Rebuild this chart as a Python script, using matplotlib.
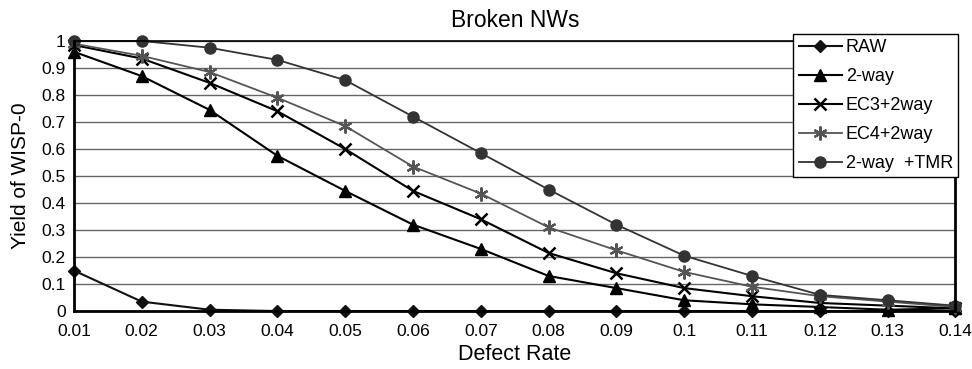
import matplotlib.pyplot as plt

plt.rcParams["font.family"] = ["Liberation Sans", "DejaVu Sans"]

defect_rate = [0.01, 0.02, 0.03, 0.04, 0.05, 0.06, 0.07, 0.08, 0.09, 0.10, 0.11, 0.12, 0.13, 0.14]
raw = [0.15, 0.035, 0.005, 0.0, 0.0, 0.0, 0.0, 0.0, 0.0, 0.0, 0.0, 0.0, 0.0, 0.0]
two_way = [0.96, 0.87, 0.745, 0.575, 0.445, 0.32, 0.23, 0.13, 0.085, 0.04, 0.025, 0.015, 0.005, 0.01]
ec3 = [0.985, 0.935, 0.845, 0.74, 0.60, 0.445, 0.34, 0.215, 0.14, 0.085, 0.055, 0.03, 0.02, 0.01]
ec4 = [0.99, 0.945, 0.885, 0.79, 0.685, 0.535, 0.435, 0.31, 0.225, 0.145, 0.09, 0.055, 0.035, 0.015]
tmr = [1.0, 1.0, 0.975, 0.93, 0.855, 0.72, 0.585, 0.45, 0.32, 0.205, 0.13, 0.06, 0.04, 0.02]
labels = ["RAW", "2-way", "EC3+2way", "EC4+2way", "2-way  +TMR"]

fig = plt.figure(figsize=(9.72, 3.69), dpi=100)
ax = fig.add_axes([0.076, 0.157, 0.907, 0.732])

ax.plot(defect_rate, raw, color="#111111", lw=1.5, marker="D", ms=6, label=labels[0], clip_on=False)
ax.plot(defect_rate, two_way, color="black", lw=1.5, marker="^", ms=8, label=labels[1], clip_on=False)
ax.plot(defect_rate, ec3, color="black", lw=1.5, marker="x", ms=9, mew=1.8, label=labels[2], clip_on=False)
ax.plot(defect_rate, ec4, color="#555555", lw=1.3, marker=(6, 2, 0), ms=10, mew=1.6, label=labels[3],
        clip_on=False)
ax.plot(defect_rate, tmr, color="#333333", lw=1.3, marker="o", ms=8, label=labels[4], clip_on=False)

ax.set_xlim(0.01, 0.14)
ax.set_ylim(0, 1)
ax.set_xticks(defect_rate)
ax.set_xticklabels(["0.01", "0.02", "0.03", "0.04", "0.05", "0.06", "0.07", "0.08",
                    "0.09", "0.1", "0.11", "0.12", "0.13", "0.14"])
ax.set_yticks([i / 10 for i in range(11)])
ax.set_yticklabels(["0", "0.1", "0.2", "0.3", "0.4", "0.5", "0.6", "0.7", "0.8", "0.9", "1"])
ax.tick_params(length=0, labelsize=12.5)
ax.tick_params(axis="y", pad=6)
ax.tick_params(axis="x", pad=9)
ax.grid(axis="y", color="#666666", lw=1)
ax.set_axisbelow(True)
for s in ["left", "bottom", "right"]:
    ax.spines[s].set_linewidth(2)
ax.spines["top"].set_linewidth(1.2)

ax.set_xlabel("Defect Rate", fontsize=15.5, labelpad=4)
ax.set_ylabel("Yield of WISP-0", fontsize=15, labelpad=8)
fig.text(0.53, 0.945, "Broken NWs", ha="center", va="center", fontsize=16.5)

leg = ax.legend(loc="upper right", bbox_to_anchor=(0.986, 0.908), bbox_transform=fig.transFigure,
                fancybox=False, framealpha=1, edgecolor="black", fontsize=13,
                handlelength=2.4, handletextpad=0.2, labelspacing=0.66, borderpad=0.3,
                borderaxespad=0)
leg.get_frame().set_linewidth(1)

plt.savefig("out.png")
plt.close()
